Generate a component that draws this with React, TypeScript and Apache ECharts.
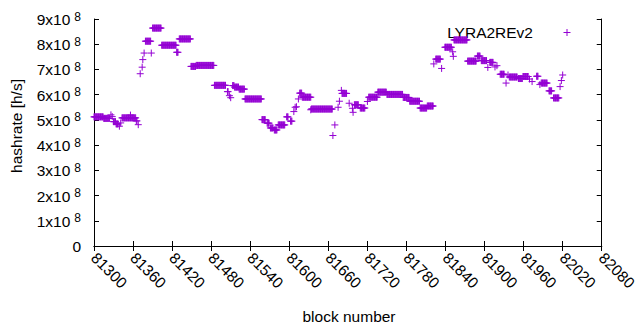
import React, { useEffect, useRef } from "react";
import * as echarts from "echarts";

// Runs of consecutive blocks sharing one hashrate value (units of 1e8 h/s)
const runStart = [
  81300, 81315, 81326, 81328, 81330, 81334, 81339, 81341, 81343, 81356, 81365, 81368,
  81371, 81374, 81375, 81377, 81379, 81388, 81390, 81404, 81427, 81431, 81449, 81457,
  81485, 81505, 81508, 81510, 81513, 81516, 81523, 81532, 81558, 81566, 81571, 81577,
  81583, 81596, 81602, 81607, 81609, 81611, 81614, 81616, 81620, 81633, 81634, 81667,
  81670, 81675, 81677, 81680, 81681, 81692, 81697, 81698, 81700, 81709, 81720, 81722,
  81736, 81750, 81775, 81785, 81801, 81812, 81822, 81825, 81834, 81839, 81851, 81852,
  81853, 81874, 81889, 81895, 81905, 81908, 81916, 81919, 81924, 81933, 81936, 81938,
  81952, 81959, 81969, 81973, 81980, 81985, 81987, 81999, 82006, 82016, 82018, 82020,
];
const runEnd = [
  81314, 81324, 81326, 81328, 81333, 81337, 81339, 81341, 81364, 81356, 81366, 81368,
  81371, 81374, 81375, 81377, 81387, 81388, 81403, 81426, 81429, 81448, 81456, 81484,
  81502, 81506, 81508, 81510, 81515, 81522, 81531, 81557, 81563, 81569, 81575, 81581,
  81593, 81598, 81604, 81607, 81609, 81611, 81614, 81619, 81633, 81633, 81666, 81667,
  81670, 81675, 81677, 81680, 81688, 81692, 81697, 81698, 81706, 81716, 81720, 81735,
  81749, 81774, 81784, 81800, 81811, 81821, 81822, 81832, 81834, 81849, 81851, 81852,
  81873, 81887, 81893, 81903, 81905, 81913, 81916, 81919, 81930, 81933, 81936, 81950,
  81958, 81967, 81969, 81973, 81982, 81985, 81996, 82003, 82014, 82016, 82018, 82020,
];
const runValue = [
  5.12, 5.06, 5.2, 5.13, 4.93, 4.84, 4.75, 4.88, 5.08, 5.19, 4.96, 4.81,
  6.83, 7.09, 7.39, 7.65, 8.12, 7.65, 8.64, 7.96, 7.68, 8.21, 7.12, 7.16,
  6.37, 6.12, 5.96, 5.88, 6.36, 6.3, 6.22, 5.83, 5.01, 4.87, 4.68, 4.6,
  4.8, 5.12, 4.95, 5.33, 5.5, 5.52, 5.83, 6.06, 5.9, 5.4, 5.43, 4.38,
  4.8, 5.5, 5.74, 6.17, 6.05, 5.66, 5.46, 5.3, 5.6, 5.47, 5.73, 5.9,
  6.1, 6.01, 5.89, 5.74, 5.47, 5.55, 7.22, 7.41, 7.04, 7.88, 7.7, 7.52,
  8.17, 7.33, 7.53, 7.35, 7.08, 7.28, 7.1, 7.15, 6.81, 6.46, 6.78, 6.7,
  6.64, 6.72, 6.62, 6.52, 6.73, 6.4, 6.46, 6.15, 5.87, 6.32, 6.56, 6.78,
];

const seriesName = "LYRA2REv2";
const xMin = 81300;
const xMax = 82080;
const xStep = 60;
const yMax = 9e8;
const yStep = 1e8;

const COLOR = "#9400D3";
const FONT = "Liberation Sans, Arial, sans-serif";
const FS = 15.5;

function buildPoints(): number[][] {
  const pts: number[][] = [];
  for (let i = 0; i < runStart.length; i++) {
    for (let b = runStart[i]; b <= runEnd[i]; b++) {
      pts.push([b, runValue[i] * 1e8]);
    }
  }
  return pts;
}

export default function App() {
  const ref = useRef<HTMLDivElement>(null);
  useEffect(() => {
    if (!ref.current) return;
    const chart = echarts.init(ref.current, null, { renderer: "svg" });
    const yFmt = (v: number) => {
      if (v === 0) return "{a|0}";
      return `{a|${Math.round(v / 1e8)}x10}{b|8}`;
    };
    const baseX = {
      type: "value" as const,
      min: xMin,
      max: xMax,
      interval: xStep,
      splitLine: { show: false },
      axisLine: { show: true, lineStyle: { color: "#000", width: 1 } },
      axisTick: { show: true, inside: true, length: 5, lineStyle: { color: "#000" } },
    };
    const baseY = {
      type: "value" as const,
      min: 0,
      max: yMax,
      interval: yStep,
      splitLine: { show: false },
      axisLine: { show: true, lineStyle: { color: "#000", width: 1 } },
      axisTick: { show: true, inside: true, length: 5, lineStyle: { color: "#000" } },
    };
    chart.setOption({
      animation: false,
      backgroundColor: "#fff",
      grid: { left: 94, right: 31, top: 19, bottom: 84, containLabel: false },
      xAxis: [
        {
          ...baseX,
          position: "bottom",
          axisLabel: {
            show: true,
            rotate: -45,
            margin: 9,
            fontSize: FS,
            fontFamily: FONT,
            color: "#000",
            showMinLabel: true,
            showMaxLabel: true,
            formatter: (v: number) => String(v),
          },
        },
        { ...baseX, position: "top", axisLabel: { show: false } },
      ],
      yAxis: [
        {
          ...baseY,
          position: "left",
          axisLabel: {
            show: true,
            margin: 13,
            formatter: yFmt,
            color: "#000",
            fontFamily: FONT,
            rich: {
              a: { fontSize: FS, fontFamily: FONT, color: "#000", lineHeight: 17, verticalAlign: "bottom" },
              b: { fontSize: 12, fontFamily: FONT, color: "#000", verticalAlign: "top", padding: [0, 0, 0, 4] },
            },
          },
        },
        { ...baseY, position: "right", axisLabel: { show: false } },
      ],
      series: [
        {
          name: seriesName,
          type: "scatter",
          xAxisIndex: 0,
          yAxisIndex: 0,
          data: buildPoints(),
          symbol: "path://M0,3.5L7,3.5M3.5,0L3.5,7",
          symbolSize: 7,
          itemStyle: { color: "none", borderColor: COLOR, borderWidth: 1, opacity: 1 },
          emphasis: { disabled: true },
        },
      ],
      graphic: [
        {
          type: "text",
          x: 16,
          y: 126,
          rotation: Math.PI / 2,
          style: {
            text: "hashrate [h/s]",
            fontSize: FS,
            fontFamily: FONT,
            fill: "#000",
            align: "center",
            verticalAlign: "middle",
          },
        },
        {
          type: "text",
          x: 349,
          y: 316,
          style: {
            text: "block number",
            fontSize: FS,
            fontFamily: FONT,
            fill: "#000",
            align: "center",
            verticalAlign: "middle",
          },
        },
        {
          type: "text",
          x: 533,
          y: 32,
          style: {
            text: seriesName,
            fontSize: FS,
            fontFamily: FONT,
            fill: "#000",
            align: "right",
            verticalAlign: "middle",
          },
        },
        {
          type: "line",
          shape: { x1: 563.5, y1: 32.5, x2: 570.5, y2: 32.5 },
          style: { stroke: COLOR, lineWidth: 1 },
        },
        {
          type: "line",
          shape: { x1: 567, y1: 29, x2: 567, y2: 36 },
          style: { stroke: COLOR, lineWidth: 1 },
        },
      ],
    });
    return () => chart.dispose();
  }, []);
  return (
    <div
      ref={ref}
      style={{ position: "absolute", left: 0, top: 0, width: 640, height: 330, background: "#fff" }}
    />
  );
}
